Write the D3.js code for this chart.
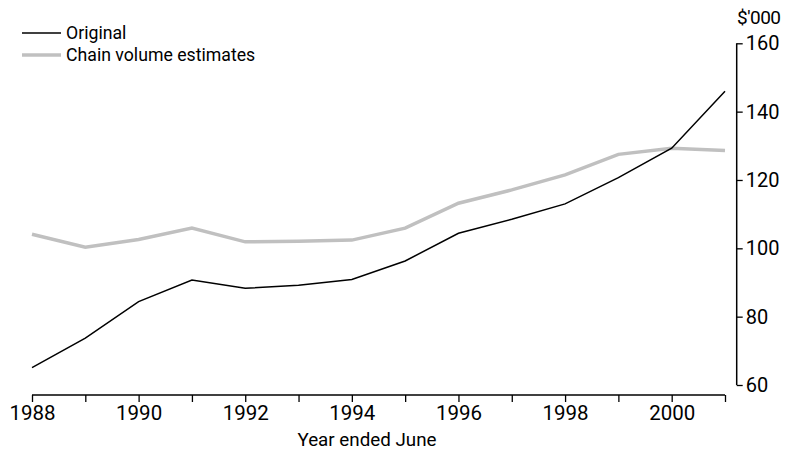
<!DOCTYPE html>
<html><head><meta charset="utf-8">
<script src="https://cdn.jsdelivr.net/npm/d3@7"></script>
<style>body{margin:0;background:#fff}</style>
</head><body><svg id="c" width="792" height="453"></svg>
<script>
const years = [1988,1989,1990,1991,1992,1993,1994,1995,1996,1997,1998,1999,2000,2001];
const original = [65.1,73.7,84.4,90.7,88.3,89.2,90.9,96.3,104.4,108.5,113.0,120.7,129.3,146.0];
const chainVolume = [104.1,100.3,102.6,105.9,101.9,102.1,102.4,105.9,113.2,117.1,121.5,127.5,129.3,128.6];
const yTicks = [60,80,100,120,140,160];
const xTickLabels = [1988,1990,1992,1994,1996,1998,2000];
const seriesNames = ["Original","Chain volume estimates"];

const svg = d3.select("#c");
const x = d3.scaleLinear().domain([1988,2001]).range([32,725]);
const y = d3.scaleLinear().domain([60,160]).range([385,43.3]);
const font = "Roboto, sans-serif";

// x axis
const xa = svg.append("g").attr("transform","translate(0,395)")
  .call(d3.axisBottom(x).tickValues(years).tickSize(7).tickPadding(3.5)
    .tickFormat(d => xTickLabels.includes(d) ? d : ""));
xa.select(".domain").attr("d","M32,0H725").attr("stroke","#000").attr("stroke-width",1.5);
xa.selectAll(".tick line").attr("stroke","#000").attr("stroke-width",1.3);
xa.selectAll("text").style("font-size","20.5px").attr("fill","#000").style("font-family",font);

// y axis
const ya = svg.append("g").attr("transform","translate(736.7,0)")
  .call(d3.axisRight(y).tickValues(yTicks).tickSize(6).tickPadding(3));
ya.select(".domain").attr("stroke","#000").attr("stroke-width",1.5).attr("d","M0,"+y(60)+"V"+y(160));
ya.selectAll(".tick line").attr("stroke","#000").attr("stroke-width",1.3);
ya.selectAll("text").style("font-size","20px").attr("fill","#000").style("font-family",font);

svg.append("text").attr("x",737).attr("y",24).style("font-size","19px").style("font-family",font).attr("letter-spacing",-0.5).text("$'000");
svg.append("text").attr("x",367).attr("y",446).attr("text-anchor","middle").style("font-size","18.8px").style("font-family",font).text("Year ended June");

const line = d3.line().x((d,i)=>x(years[i])).y(d=>y(d));
svg.append("path").datum(chainVolume).attr("d",line).attr("fill","none").attr("stroke","#c0c0c0").attr("stroke-width",3.5);
svg.append("path").datum(original).attr("d",line).attr("fill","none").attr("stroke","#000").attr("stroke-width",1.5);

// legend
const lg = [{n:seriesNames[0],c:"#000",w:1.5,y:33},{n:seriesNames[1],c:"#c0c0c0",w:3.5,y:55}];
lg.forEach(d=>{
  svg.append("line").attr("x1",22).attr("x2",61).attr("y1",d.y).attr("y2",d.y).attr("stroke",d.c).attr("stroke-width",d.w);
  svg.append("text").attr("x",66).attr("y",d.y+6).style("font-size","17.7px").style("font-family",font).text(d.n);
});
</script></body></html>
